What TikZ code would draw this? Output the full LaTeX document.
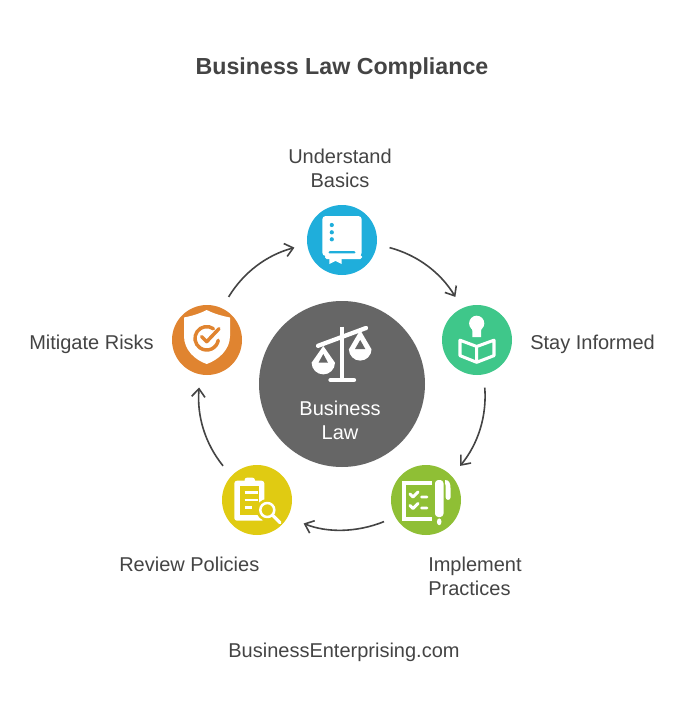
\documentclass[tikz,border=0pt]{standalone}
\usepackage{fontspec}
\setmainfont{Liberation Sans}
\usetikzlibrary{arrows.meta}
\definecolor{ink}{HTML}{444444}
\definecolor{cblue}{HTML}{1FAEDB}
\definecolor{cgreen}{HTML}{3FC78A}
\definecolor{clime}{HTML}{8FBF35}
\definecolor{cyellow}{HTML}{E0CB12}
\definecolor{corange}{HTML}{E08430}
\definecolor{cgrey}{HTML}{666666}
\tikzset{
  disc/.style={circle,inner sep=0pt,minimum size=52.5pt},
  lbl/.style={text=ink,inner sep=0pt,font=\fontsize{15}{18}\selectfont},
  cycle arrow/.style={draw=ink,line width=1.2pt,-{Straight Barb[length=6pt,width=10pt,line width=1.2pt]},shorten <=9.75pt,shorten >=9.75pt,bend left=22},
  wl/.style={draw=white,line cap=round,line join=round},
}
\begin{document}
\begin{tikzpicture}[x=0.75pt,y=-0.75pt]
\useasboundingbox (0,0) rectangle (684,710);
\fill[white] (0,0) rectangle (684,710);
\node[text=ink,font=\bfseries\fontsize{17.4}{21}\selectfont] (title) at (342,69) {Business Law Compliance};
\node[circle,inner sep=0pt,minimum size=124.5pt,fill=cgrey] (hub) at (342,384) {};
\node[disc,fill=cblue] (n1) at (342,240) {};
\node[disc,fill=cgreen] (n2) at (477,340) {};
\node[disc,fill=clime] (n3) at (426,500) {};
\node[disc,fill=cyellow] (n4) at (257,500) {};
\node[disc,fill=corange] (n5) at (207,340) {};
\draw[cycle arrow] (n1.-7) to (n2.115);
\draw[cycle arrow] (n2.-79) to (n3.43);
\draw[cycle arrow,shorten >=12.75pt,shorten <=9pt] (n3.-151) to (n4.-29);
\draw[cycle arrow] (n4.137) to (n5.-101);
\draw[cycle arrow] (n5.65) to (n1.187);
\node[lbl,align=center] (t1) at (340,168) {Understand\\Basics};
\node[lbl,anchor=west] (t2) at (530,344) {Stay Informed};
\node[lbl,anchor=west,align=left] (t3) at (428,576) {Implement\\Practices};
\node[lbl,anchor=west] (t4) at (119,564) {Review Policies};
\node[lbl,anchor=east] (t5) at (154,344) {Mitigate Risks};
\node[lbl,text=white,align=center] (t0) at (340,420) {Business\\Law};
\node[lbl] (foot) at (344,652) {BusinessEnterprising.com};
% book
\fill[white,rounded corners=2.5pt] (322.3,216) rectangle (361.7,256);
\fill[white,rounded corners=1.2pt] (325,255) rectangle (362,259);
\fill[cblue,rounded corners=0.8pt] (328.5,251.2) rectangle (355.5,253.4);
\fill[white] (329.3,256) -- (341.7,256) -- (341.7,264) -- (335.5,261) -- (329.3,264) -- cycle;
\fill[cblue] (331.8,225) circle (2.1) (331.8,232.3) circle (2.1) (331.8,239.3) circle (2.1);
% open book and bulb
\fill[white] (476.7,323.3) circle (7.6);
\fill[white] (471,326) -- (482.4,326) -- (481,331) -- (481,337) -- (472.4,337) -- (472.4,331) -- cycle;
\draw[wl,line width=2.3pt] (460,340.2) -- (476.7,346.5) -- (494,340.2) -- (494,355.6) -- (476.7,362.3) -- (460,355.6) -- cycle (476.7,346.5) -- (476.7,362.3);
% checklist and pen
\draw[white,line width=3pt,line cap=butt,line join=miter] (431.7,482.5) -- (403.5,482.5) -- (403.5,519) -- (432,519);
\draw[wl,line width=2.2pt] (410,494) -- (413,497) -- (418,492) (421.5,497) -- (427,497);
\draw[wl,line width=2.2pt] (410,505.5) -- (413,508.5) -- (418,503.5) (421.5,508) -- (427,508);
\fill[white,rounded corners=2.5pt] (435,480) rectangle (443.5,517);
\fill[white] (439.2,521.8) ellipse (2.3 and 3.4);
\fill[white] (445,480) .. controls (449,480) and (450.5,483) .. (450.5,488) -- (450.5,497.5) arc[start angle=0,end angle=180,radius=2.4] -- (445.7,490) .. controls (445.7,486) and (445.5,484) .. (445,483) -- cycle;
% clipboard and magnifier
\fill[white,rounded corners=2pt] (234.3,480.7) rectangle (264.3,520.7);
\fill[white,rounded corners=2pt] (244.5,477.6) rectangle (255,484);
\fill[cyellow] (240,486) rectangle (259,515);
\draw[wl,line width=2.2pt,line cap=butt] (244.5,492.7) -- (258,492.7) (244.5,500) -- (258,500) (244.5,507.3) -- (251.5,507.3);
\fill[cyellow] (267.3,510) circle (11);
\draw[wl,line width=1.9pt] (267.3,510) circle (7);
\draw[wl,line width=2.4pt] (272.6,515.3) -- (280,522.7);
% shield
\fill[white] (184,317.5) .. controls (192,316) and (200,313.5) .. (206.7,310) .. controls (213.5,313.5) and (222,316) .. (230,317.5) -- (230,336) .. controls (230,350) and (218,360) .. (206.7,364) .. controls (195,360) and (184,350) .. (184,336) -- cycle;
\draw[corange,line width=2.6pt,line cap=round] (206.7,338.3) ++(-55:11.7) arc[start angle=-55,end angle=-350,radius=11.7];
\draw[corange,line width=2.6pt,line cap=round,line join=round] (201.7,336.7) -- (206.7,341.7) -- (219,328.7);
% scales
\draw[wl,line width=2.8pt,line cap=butt] (341.7,326.7) -- (341.7,380);
\draw[wl,line width=3.2pt] (330.5,380) -- (354,380);
\draw[wl,line width=3.2pt] (318,345.8) -- (366,328);
\fill[white] (323.3,346) -- (335,362.7) arc[start angle=0,end angle=180,radius=11.7] -- cycle;
\fill[cgrey] (323.3,354) -- (318.5,362.7) -- (328,362.7) -- cycle;
\fill[white] (360.2,330) -- (371.5,349.3) arc[start angle=0,end angle=180,radius=11.3] -- cycle;
\fill[cgrey] (360.2,340) -- (355,349) -- (365.3,349) -- cycle;
\end{tikzpicture}
\end{document}
